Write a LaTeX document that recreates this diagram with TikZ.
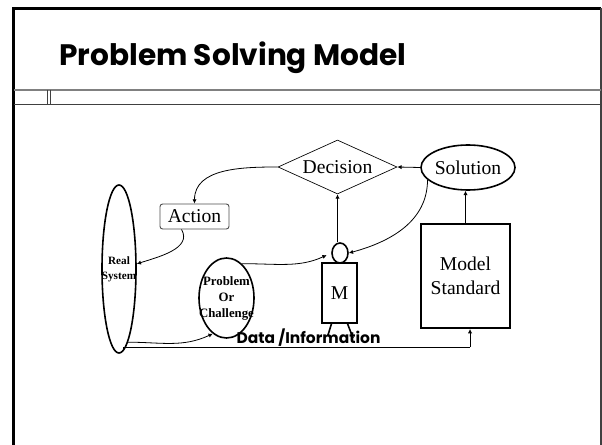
\documentclass[tikz,border=0pt]{standalone}
\usepackage{fontspec}
\usetikzlibrary{shapes.geometric,arrows.meta}
\setmainfont{Liberation Serif}
\newfontfamily\slidefont{Poppins}
\newcommand{\overtext}[1]{\makebox[0pt]{\begin{tabular}{@{}c@{}}\rule{0pt}{\baselineskip}#1\end{tabular}}}

\begin{document}
\begin{tikzpicture}[x=0.75pt,y=-0.75pt,>={Latex[length=3.2pt,width=3.2pt]}]
	\tikzset{PlainStyle/.style =
		{inner sep = 0pt,
			align = center,
			font = \fontsize{14.7}{18}\selectfont},
		EllStyle/.style =
		{draw,
			shape = ellipse,
			inner sep = 0pt,
			line width = 1.2pt,
			align = center},
		SmallStyle/.style =
		{font = \fontsize{9.6}{12}\selectfont\bfseries},
		EdgeStyle/.style = {->, line width = 0.6pt}}
	\useasboundingbox (0,0) rectangle (602,445);
	% slide frame
	\draw[line width=1.9pt] (13.5,445) -- (13.5,8.5) -- (601,8.5);
	\draw[line width=0.8pt,black!75] (601,8.5) -- (601,445);
	\draw[line width=1.1pt,black!50] (14,90) -- (601,90);
	\draw[line width=0.7pt,black!75] (14,104.5) -- (601,104.5);
	\draw[line width=0.7pt,black!75] (47,90) -- (47,104.5) (50.5,90) -- (50.5,104.5);
	\node[anchor=base west,inner sep=0pt,font=\slidefont\fontsize{22.2}{24}\selectfont\bfseries] (title) at (59,66) {Problem Solving Model};
	% nodes
	\node[EllStyle,font=\fontsize{8.4}{11.6}\selectfont\bfseries,minimum width=25.5pt,minimum height=126pt] (real) at (119,269) {\overtext{Real\\System}};
	\node[draw=black!70,rounded corners=2pt,PlainStyle,line width=0.7pt,minimum width=51.75pt,minimum height=18.75pt] (action) at (194.5,216.5) {Action};
	\node[EllStyle,SmallStyle,minimum width=41.25pt,minimum height=60pt] (problem) at (226.5,298) {\overtext{Problem\\Or\\Challenge}};
	\node[draw,shape=diamond,PlainStyle,line width=0.5pt,aspect=2.2,minimum width=89.25pt,minimum height=40.5pt] (decision) at (337.5,167) {Decision};
	\node[EllStyle,PlainStyle,line width=1.2pt,minimum width=70.5pt,minimum height=33.75pt] (solution) at (468,167.5) {Solution};
	\node[draw,PlainStyle,line width=1.5pt,minimum width=66.75pt,minimum height=78pt] (model) at (465.5,276) {Model\\Standard};
	\node[EllStyle,minimum width=12pt,minimum height=15pt] (head) at (340,253) {};
	\node[draw,PlainStyle,line width=1pt,minimum width=26.25pt,minimum height=45pt] (man) at (339.5,293) {M};
	\node[inner sep=0pt,font=\slidefont\fontsize{11.6}{14}\selectfont\bfseries] (data) at (308.5,337.5) {Data /Information};
	\coordinate (legA) at (328,335);
	\coordinate (legB) at (353,338);
	\coordinate (bend) at (470,347);
	% legs
	\draw[line width=1.2pt] (man.south)+(-8,0) -- (legA);
	\draw[line width=1.2pt] (man.south)+(8,0) -- (legB);
	% edges
	\draw[EdgeStyle] (decision.west) to[out=180,in=90] (action.north);
	\draw[EdgeStyle] (action.-135) to[out=-60,in=18] (real.16);
	\draw[EdgeStyle] (real.-83) to[out=0,in=205] (problem.-111);
	\draw[EdgeStyle,shorten >=3.75pt] (problem.66) to[out=0,in=205] (head.west);
	\draw[EdgeStyle] (solution.-163) to[out=-90,in=15] (head.east);
	\draw[EdgeStyle] (head.north -| decision.south) -- (decision.south);
	\draw[EdgeStyle] (solution.west) -- (decision.east);
	\draw[EdgeStyle] (model.north) -- (model.north |- solution.south);
	\draw[line width=0.7pt] (real.-87) -- (real.-87 |- bend) -- (bend);
	\draw[EdgeStyle] (bend) -- (bend |- model.south);
\end{tikzpicture}
\end{document}
